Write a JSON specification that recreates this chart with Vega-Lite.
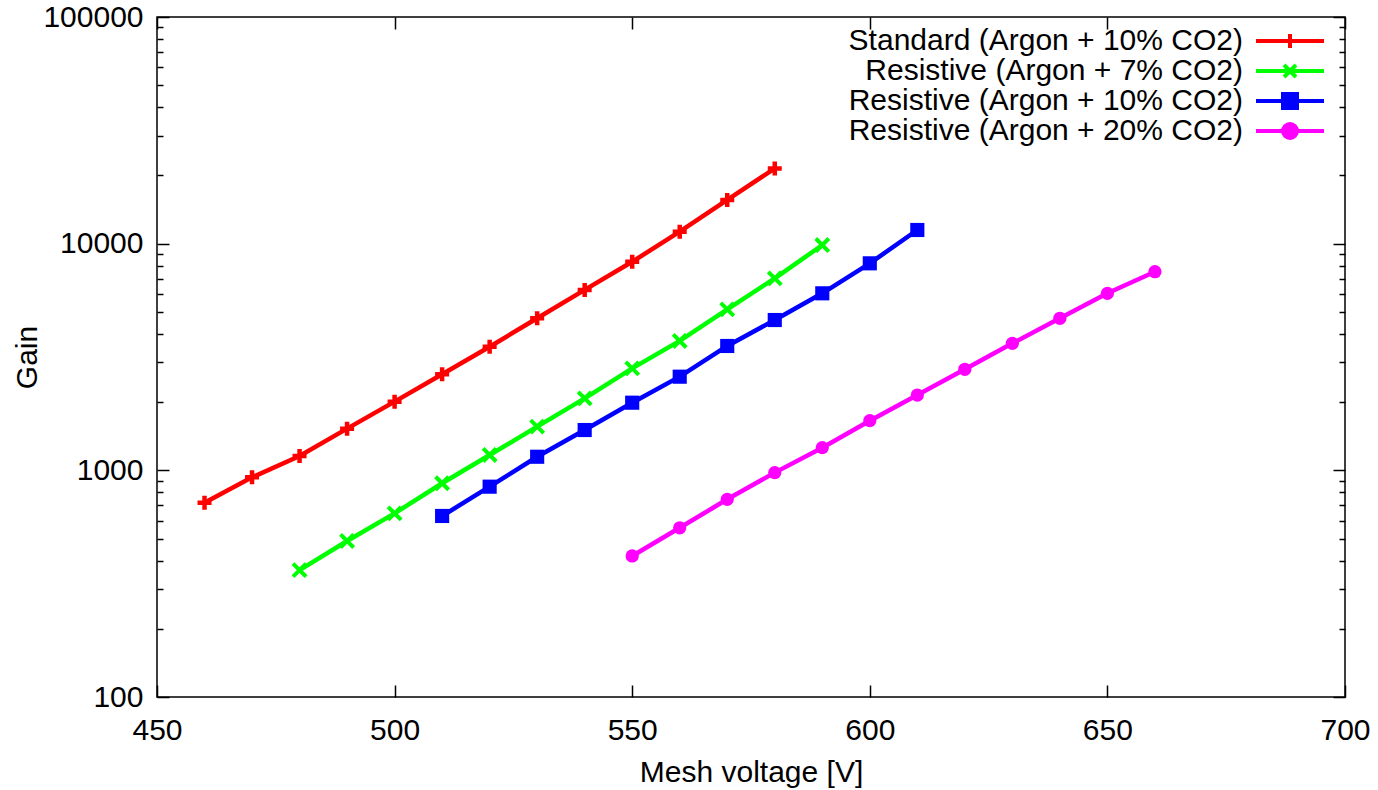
{
  "$schema": "https://vega.github.io/schema/vega-lite/v6.json",
  "width": 1188,
  "height": 680,
  "autosize": "none",
  "padding": {"left": 157, "top": 17, "right": 33, "bottom": 93},
  "background": "white",
  "config": {
    "font": "Liberation Sans",
    "view": {"stroke": "black", "strokeWidth": 1.5},
    "axis": {
      "labelFont": "Liberation Sans",
      "titleFont": "Liberation Sans",
      "labelFontSize": 30,
      "titleFontSize": 30,
      "labelColor": "black",
      "titleColor": "black",
      "titleFontWeight": "normal",
      "tickColor": "black",
      "tickWidth": 1.5,
      "domain": false,
      "grid": false,
      "labelOverlap": false,
      "labelFlush": false,
      "labelBound": false
    }
  },
  "data": {
    "values": [
      {"series": "Standard (Argon + 10% CO2)", "v": 460, "gain": 720},
      {"series": "Standard (Argon + 10% CO2)", "v": 470, "gain": 931},
      {"series": "Standard (Argon + 10% CO2)", "v": 480, "gain": 1157},
      {"series": "Standard (Argon + 10% CO2)", "v": 490, "gain": 1527},
      {"series": "Standard (Argon + 10% CO2)", "v": 500, "gain": 2009},
      {"series": "Standard (Argon + 10% CO2)", "v": 510, "gain": 2653},
      {"series": "Standard (Argon + 10% CO2)", "v": 520, "gain": 3510},
      {"series": "Standard (Argon + 10% CO2)", "v": 530, "gain": 4686},
      {"series": "Standard (Argon + 10% CO2)", "v": 540, "gain": 6250},
      {"series": "Standard (Argon + 10% CO2)", "v": 550, "gain": 8320},
      {"series": "Standard (Argon + 10% CO2)", "v": 560, "gain": 11300},
      {"series": "Standard (Argon + 10% CO2)", "v": 570, "gain": 15590},
      {"series": "Standard (Argon + 10% CO2)", "v": 580, "gain": 21480},
      {"series": "Resistive (Argon + 7% CO2)", "v": 480, "gain": 363},
      {"series": "Resistive (Argon + 7% CO2)", "v": 490, "gain": 488},
      {"series": "Resistive (Argon + 7% CO2)", "v": 500, "gain": 646},
      {"series": "Resistive (Argon + 7% CO2)", "v": 510, "gain": 877},
      {"series": "Resistive (Argon + 7% CO2)", "v": 520, "gain": 1169},
      {"series": "Resistive (Argon + 7% CO2)", "v": 530, "gain": 1559},
      {"series": "Resistive (Argon + 7% CO2)", "v": 540, "gain": 2078},
      {"series": "Resistive (Argon + 7% CO2)", "v": 550, "gain": 2818},
      {"series": "Resistive (Argon + 7% CO2)", "v": 560, "gain": 3722},
      {"series": "Resistive (Argon + 7% CO2)", "v": 570, "gain": 5130},
      {"series": "Resistive (Argon + 7% CO2)", "v": 580, "gain": 7030},
      {"series": "Resistive (Argon + 7% CO2)", "v": 590, "gain": 9860},
      {"series": "Resistive (Argon + 10% CO2)", "v": 510, "gain": 629},
      {"series": "Resistive (Argon + 10% CO2)", "v": 520, "gain": 847},
      {"series": "Resistive (Argon + 10% CO2)", "v": 530, "gain": 1148},
      {"series": "Resistive (Argon + 10% CO2)", "v": 540, "gain": 1506},
      {"series": "Resistive (Argon + 10% CO2)", "v": 550, "gain": 1988},
      {"series": "Resistive (Argon + 10% CO2)", "v": 560, "gain": 2589},
      {"series": "Resistive (Argon + 10% CO2)", "v": 570, "gain": 3537},
      {"series": "Resistive (Argon + 10% CO2)", "v": 580, "gain": 4604},
      {"series": "Resistive (Argon + 10% CO2)", "v": 590, "gain": 6039},
      {"series": "Resistive (Argon + 10% CO2)", "v": 600, "gain": 8190},
      {"series": "Resistive (Argon + 10% CO2)", "v": 610, "gain": 11490},
      {"series": "Resistive (Argon + 20% CO2)", "v": 550, "gain": 419},
      {"series": "Resistive (Argon + 20% CO2)", "v": 560, "gain": 558},
      {"series": "Resistive (Argon + 20% CO2)", "v": 570, "gain": 745},
      {"series": "Resistive (Argon + 20% CO2)", "v": 580, "gain": 977},
      {"series": "Resistive (Argon + 20% CO2)", "v": 590, "gain": 1259},
      {"series": "Resistive (Argon + 20% CO2)", "v": 600, "gain": 1656},
      {"series": "Resistive (Argon + 20% CO2)", "v": 610, "gain": 2149},
      {"series": "Resistive (Argon + 20% CO2)", "v": 620, "gain": 2791},
      {"series": "Resistive (Argon + 20% CO2)", "v": 630, "gain": 3633},
      {"series": "Resistive (Argon + 20% CO2)", "v": 640, "gain": 4686},
      {"series": "Resistive (Argon + 20% CO2)", "v": 650, "gain": 6039},
      {"series": "Resistive (Argon + 20% CO2)", "v": 660, "gain": 7520}
    ]
  },
  "resolve": {"axis": {"x": "independent", "y": "independent"}},
  "layer": [
    {
      "mark": {"type": "line", "strokeWidth": 4.5},
      "encoding": {
        "x": {
          "field": "v", "type": "quantitative",
          "scale": {"domain": [450, 700], "nice": false, "zero": false},
          "axis": {
            "title": "Mesh voltage [V]",
            "values": [450, 500, 550, 600, 650, 700],
            "tickSize": -12,
            "labelPadding": 30,
            "titlePadding": 12
          }
        },
        "y": {
          "field": "gain", "type": "quantitative",
          "scale": {"type": "log", "domain": [100, 100000], "nice": false},
          "axis": {
            "title": "Gain",
            "values": [100, 200, 300, 400, 500, 600, 700, 800, 900, 1000, 2000, 3000, 4000, 5000, 6000, 7000, 8000, 9000, 10000, 20000, 30000, 40000, 50000, 60000, 70000, 80000, 90000, 100000],
            "labelExpr": "indexof([100, 1000, 10000, 100000], datum.value) >= 0 ? format(datum.value, 'd') : ''",
            "tickSize": {"condition": {"test": "indexof([100, 1000, 10000, 100000], datum.value) >= 0", "value": -12}, "value": -6},
            "labelPadding": 26,
            "titlePadding": 0
          }
        },
        "color": {
          "field": "series", "type": "nominal",
          "scale": {
            "domain": ["Standard (Argon + 10% CO2)", "Resistive (Argon + 7% CO2)", "Resistive (Argon + 10% CO2)", "Resistive (Argon + 20% CO2)"],
            "range": ["#ff0000", "#00ff00", "#0000ff", "#ff00ff"]
          },
          "legend": {
            "title": null,
            "orient": "none",
            "legendX": 1118,
            "legendY": 9,
            "padding": 0,
            "labelFont": "Liberation Sans",
            "labelFontSize": 30,
            "labelColor": "black",
            "labelLimit": 0,
            "labelAlign": "right",
            "labelBaseline": "middle",
            "labelOffset": -62,
            "symbolSize": 400,
            "symbolStrokeWidth": 3.5,
            "rowPadding": 0,
            "encode": {
              "symbols": {
                "update": {
                  "shape": {"signal": "datum.value === 'Standard (Argon + 10% CO2)' ? 'M-3.4,0H3.4M0,-0.7V0.7' : datum.value === 'Resistive (Argon + 7% CO2)' ? 'M-3.4,0H3.4M-0.6,-0.6L0.6,0.6M-0.6,0.6L0.6,-0.6' : datum.value === 'Resistive (Argon + 10% CO2)' ? 'M-3.4,0H3.4M-0.7,-0.7H0.7V0.7H-0.7Z' : 'M-3.4,0H3.4M0.7,0A0.7,0.7,0,1,1,-0.7,0A0.7,0.7,0,1,1,0.7,0Z'"},
                  "fill": {"scale": "color", "field": "value"},
                  "stroke": {"scale": "color", "field": "value"},
                  "strokeWidth": {"value": 4},
                  "opacity": {"value": 1}
                }
              }
            }
          }
        }
      }
    },
    {
      "transform": [{"filter": "datum.series === 'Standard (Argon + 10% CO2)'"}],
      "mark": {"type": "point", "shape": "M-1,0H1M0,-1V1", "size": 196, "filled": false, "strokeWidth": 4.5, "opacity": 1},
      "encoding": {
        "x": {"field": "v", "type": "quantitative", "axis": null},
        "y": {"field": "gain", "type": "quantitative", "axis": null},
        "color": {"field": "series", "type": "nominal"}
      }
    },
    {
      "transform": [{"filter": "datum.series === 'Resistive (Argon + 7% CO2)'"}],
      "mark": {"type": "point", "shape": "M-1,-1L1,1M-1,1L1,-1", "size": 170, "filled": false, "strokeWidth": 4, "opacity": 1},
      "encoding": {
        "x": {"field": "v", "type": "quantitative", "axis": null},
        "y": {"field": "gain", "type": "quantitative", "axis": null},
        "color": {"field": "series", "type": "nominal"}
      }
    },
    {
      "transform": [{"filter": "datum.series === 'Resistive (Argon + 10% CO2)'"}],
      "mark": {"type": "point", "shape": "square", "size": 200, "filled": true, "opacity": 1},
      "encoding": {
        "x": {"field": "v", "type": "quantitative", "axis": null},
        "y": {"field": "gain", "type": "quantitative", "axis": null},
        "color": {"field": "series", "type": "nominal"}
      }
    },
    {
      "transform": [{"filter": "datum.series === 'Resistive (Argon + 20% CO2)'"}],
      "mark": {"type": "point", "shape": "circle", "size": 175, "filled": true, "opacity": 1},
      "encoding": {
        "x": {"field": "v", "type": "quantitative", "axis": null},
        "y": {"field": "gain", "type": "quantitative", "axis": null},
        "color": {"field": "series", "type": "nominal"}
      }
    },
    {
      "mark": {"type": "point", "opacity": 0},
      "encoding": {
        "x": {
          "field": "v", "type": "quantitative",
          "axis": {"orient": "top", "title": null, "labels": false, "values": [450, 500, 550, 600, 650, 700], "tickSize": -12}
        },
        "y": {
          "field": "gain", "type": "quantitative",
          "axis": {
            "orient": "right", "title": null, "labels": false,
            "values": [100, 200, 300, 400, 500, 600, 700, 800, 900, 1000, 2000, 3000, 4000, 5000, 6000, 7000, 8000, 9000, 10000, 20000, 30000, 40000, 50000, 60000, 70000, 80000, 90000, 100000],
            "tickSize": {"condition": {"test": "indexof([100, 1000, 10000, 100000], datum.value) >= 0", "value": -12}, "value": -6}
          }
        }
      }
    }
  ]
}
